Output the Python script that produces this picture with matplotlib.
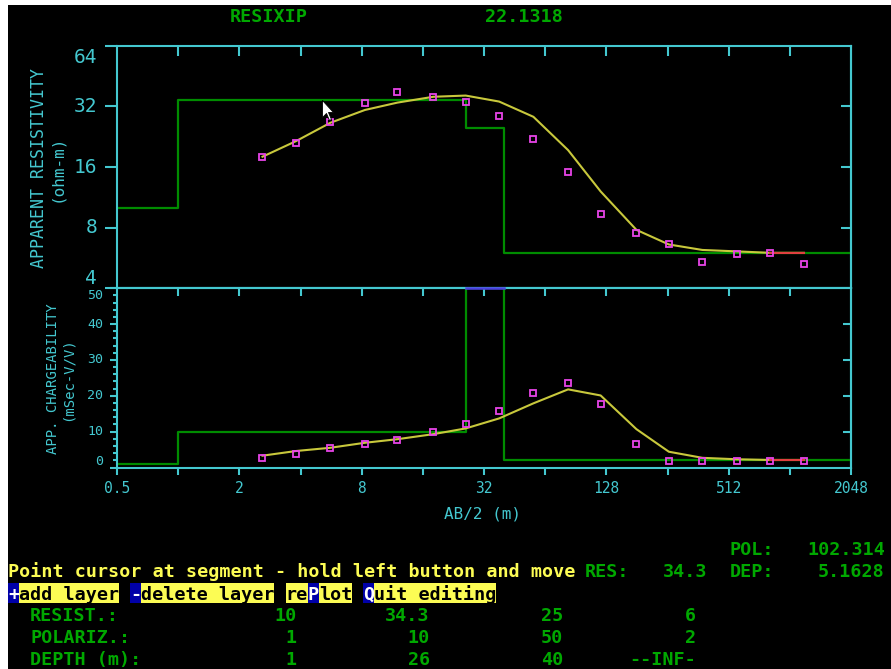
import numpy as np
import matplotlib.pyplot as plt
from matplotlib.path import Path
from matplotlib.patches import Rectangle
from matplotlib.ticker import FixedLocator, NullLocator, NullFormatter

W, H, DPI = 891, 669, 100

# 16-colour screen palette
CYAN = "#44c8d0"
GREEN = "#00a800"
STEP_GREEN = "#008c00"
YELLOW = "#fcfc54"
CURVE = "#c8c83c"
MAGENTA = "#e844e8"
RED = "#e04040"
BLUE_LINE = "#4c40e0"
BLUE_BG = "#0000a8"

# sounding: AB/2 spacing, measured and computed values
ab2 = [2.6, 3.8, 5.6, 8.3, 12, 18, 26, 38, 56, 83, 120, 180, 260, 380, 560, 820, 1200]
rho_obs = [18.0, 21.1, 26.8, 33.4, 37.8, 35.6, 33.8, 28.6, 22.1, 15.1, 9.4, 7.5, 6.6, 5.4, 5.9, 6.0, 5.3]
rho_fit = [18.0, 21.5, 26.5, 30.7, 33.4, 35.7, 36.2, 33.8, 28.4, 19.4, 12.1, 7.8, 6.6, 6.2, 6.1, 6.0, 6.0]
ip_obs = [2.7, 3.9, 5.4, 6.6, 7.8, 9.8, 12.0, 15.9, 20.9, 23.7, 17.8, 6.6, 1.9, 1.9, 1.9, 1.9, 1.9]
ip_fit = [3.3, 4.6, 5.5, 6.9, 7.9, 9.3, 10.9, 13.7, 17.9, 21.8, 20.1, 10.7, 4.4, 2.7, 2.3, 2.1, 2.1]

# layered model
layer_res = [10, 34.3, 25, 6]
layer_pol = [1, 10, 50, 2]
layer_depth = [1, 26, 40]
res_text = ["10", "34.3", "25", "6"]
pol_text = ["1", "10", "50", "2"]
depth_text = ["1", "26", "40", "--INF-"]

x_min, x_max = 0.5, 2048
octaves = [0.5 * 2 ** k for k in range(13)]
x_labels = ["0.5", "", "2", "", "8", "", "32", "", "128", "", "512", "", "2048"]
rho_ticks = [4, 8, 16, 32, 64]
ip_ticks = [0, 10, 20, 30, 40, 50]

cursor_x = 5.1
status = {"title": "RESIXIP", "value": "22.1318", "res": "34.3", "pol": "102.314", "dep": "5.1628"}

plt.rcParams["font.family"] = "DejaVu Sans Mono"
PX = 72 / DPI          # points per pixel
CHAR = 11.1            # text-mode cell width in pixels
MONO = CHAR / 0.602 * PX


def fx(px):
    return px / W


def fy(py):
    return 1 - py / H


def col(c):
    return 8 + CHAR * c


fig = plt.figure(figsize=(W / DPI, H / DPI), dpi=DPI, facecolor="white")
fig.add_artist(Rectangle((fx(8), 0), (W - 8) / W, (H - 5) / H, transform=fig.transFigure,
                         facecolor="black", edgecolor="none", zorder=-10))

L, R = 117, 851
T1, MID, B2 = 45.7, 288.3, 467.5
ax1 = fig.add_axes([fx(L), fy(MID), (R - L) / W, (MID - T1) / H])
ax2 = fig.add_axes([fx(L), fy(B2), (R - L) / W, (B2 - MID) / H])

for ax in (ax1, ax2):
    ax.set_facecolor("black")
    ax.set_xscale("log", base=2)
    ax.set_xlim(x_min, x_max)
    for s in ax.spines.values():
        s.set_color(CYAN)
        s.set_linewidth(1.5)
    ax.xaxis.set_minor_locator(NullLocator())
    ax.yaxis.set_minor_locator(NullLocator())

# ---- resistivity panel
ax1.set_yscale("log", base=2)
ax1.set_ylim(4, 64)
ax1.yaxis.set_major_locator(FixedLocator(rho_ticks))
ax1.yaxis.set_major_formatter(NullFormatter())
ax1.yaxis.set_minor_locator(NullLocator())
ax1.tick_params(axis="y", direction="out", length=12 * PX, width=1.5, color=CYAN,
                left=True, right=False, labelleft=False)
ax1.xaxis.set_major_locator(FixedLocator(octaves[1:-1]))
ax1.xaxis.set_major_formatter(NullFormatter())
ax1.tick_params(axis="x", direction="in", length=10 * PX, width=1.5, color=CYAN,
                top=True, bottom=False, labelbottom=False)

r1 = ax1.secondary_yaxis("right")
r1.set_yticks(rho_ticks[1:-1])
r1.yaxis.set_major_formatter(NullFormatter())
r1.yaxis.set_minor_locator(NullLocator())
r1.tick_params(direction="in", length=10 * PX, width=1.5, color=CYAN)
r1.spines["right"].set_color(CYAN)
r1.spines["right"].set_linewidth(1.5)

step_x = [x_min] + layer_depth + [x_max]
ax1.step(step_x, layer_res + [layer_res[-1]], where="post", color=STEP_GREEN, lw=1.6, zorder=2)
ax1.plot(ab2, rho_fit, color=CURVE, lw=1.5, zorder=3)
ax1.plot(ab2[-2:], rho_fit[-2:], color=RED, lw=1.5, zorder=3)
ax1.plot(ab2, rho_obs, ls="none", marker="s", ms=5, mfc="none", mec=MAGENTA, mew=1.3, zorder=4)

for v in rho_ticks:
    dy = {64: 12, 4: -10}.get(v, 0)
    ax1.annotate(str(v), xy=(0, v), xycoords=("axes fraction", "data"),
                 xytext=(-20 * PX, -dy * PX), textcoords="offset points",
                 ha="right", va="center", color=CYAN, fontsize=14, annotation_clip=False)

# mouse pointer resting on the second layer
arrow = Path([(0, 0), (0, -17), (4, -13), (7, -20), (9, -19), (6, -12), (11, -12), (0, 0)])
ax1.plot([cursor_x], [layer_res[1]], marker=arrow, ms=2 * 20 * PX, mfc="white", mec="black",
         mew=0.6, zorder=10, clip_on=False)

# ---- chargeability panel
ax2.set_ylim(0, 50)
ax2.yaxis.set_major_locator(FixedLocator(ip_ticks))
ax2.yaxis.set_minor_locator(FixedLocator(np.arange(0, 51, 2)))
ax2.yaxis.set_major_formatter(NullFormatter())
ax2.tick_params(axis="y", which="major", direction="out", length=7 * PX, width=1.5, color=CYAN,
                left=True, right=False, labelleft=False)
ax2.tick_params(axis="y", which="minor", direction="out", length=4 * PX, width=1.5, color=CYAN,
                left=True, right=False)
ax2.set_xticks(octaves, labels=x_labels)
ax2.xaxis.set_minor_locator(NullLocator())
ax2.tick_params(axis="x", direction="out", length=7 * PX, width=1.5, color=CYAN,
                labelcolor=CYAN, labelsize=10.5, pad=5, top=False)

t2 = ax2.secondary_xaxis("top")
t2.set_xticks(octaves[1:-1])
t2.xaxis.set_major_formatter(NullFormatter())
t2.xaxis.set_minor_locator(NullLocator())
t2.tick_params(direction="in", length=8 * PX, width=1.5, color=CYAN)
t2.spines["top"].set_color(CYAN)
t2.spines["top"].set_linewidth(1.5)

r2 = ax2.secondary_yaxis("right")
r2.set_yticks(ip_ticks[1:-1])
r2.yaxis.set_major_formatter(NullFormatter())
r2.yaxis.set_minor_locator(NullLocator())
r2.tick_params(direction="in", length=8 * PX, width=1.5, color=CYAN)
r2.spines["right"].set_color(CYAN)
r2.spines["right"].set_linewidth(1.5)

ax2.step(step_x, layer_pol + [layer_pol[-1]], where="post", color=STEP_GREEN, lw=1.6, zorder=2)
ax2.plot(layer_depth[1:3], [layer_pol[2]] * 2, color=BLUE_LINE, lw=1.8, zorder=6, clip_on=False)
ax2.plot(ab2, ip_fit, color=CURVE, lw=1.5, zorder=3)
ax2.plot(ab2[-2:], ip_fit[-2:], color=RED, lw=1.5, zorder=3)
ax2.plot(ab2, ip_obs, ls="none", marker="s", ms=5, mfc="none", mec=MAGENTA, mew=1.3, zorder=4)

for v in ip_ticks:
    dy = {50: 7, 0: -6}.get(v, 0)
    ax2.annotate(str(v), xy=(0, v), xycoords=("axes fraction", "data"),
                 xytext=(-14 * PX, -dy * PX), textcoords="offset points",
                 ha="right", va="center", color=CYAN, fontsize=9.5, annotation_clip=False)

# axis titles
fig.text(fx(482), fy(514), "AB/2 (m)", color=CYAN, fontsize=11.5, ha="center", va="center")
fig.text(fx(39), fy(168), "APPARENT RESISTIVITY", color=CYAN, fontsize=12, rotation=90,
         ha="center", va="center")
fig.text(fx(57), fy(168), "(ohm-m)", color=CYAN, fontsize=11.5, rotation=90, ha="center", va="center")
fig.text(fx(53), fy(379), "APP. CHARGEABILITY", color=CYAN, fontsize=10, rotation=90,
         ha="center", va="center")
fig.text(fx(68), fy(379), "(mSec-V/V)", color=CYAN, fontsize=10, rotation=90, ha="center", va="center")


# ---- text-mode lines
def screen(c, row_y, s, color=GREEN, ha="left"):
    fig.text(fx(col(c)), fy(row_y + 7), s, color=color, fontsize=MONO, fontweight="bold",
             ha=ha, va="baseline", zorder=5)


screen(20, 15, status["title"])
screen(43, 15, status["value"])
screen(65, 548, "POL:")
screen(79, 548, status["pol"], ha="right")
screen(0, 570, "Point cursor at segment - hold left button and move", color=YELLOW)
screen(52, 570, "RES:")
screen(63, 570, status["res"], ha="right")
screen(65, 570, "DEP:")
screen(79, 570, status["dep"], ha="right")

menu = [(0, "+", BLUE_BG, "white"), (1, "add layer", YELLOW, "black"),
        (11, "-", BLUE_BG, "white"), (12, "delete layer", YELLOW, "black"),
        (25, "re", YELLOW, "black"), (27, "P", BLUE_BG, "white"), (28, "lot", YELLOW, "black"),
        (32, "Q", BLUE_BG, "white"), (33, "uit editing", YELLOW, "black")]
for c, s, bg, fg in menu:
    fig.add_artist(Rectangle((fx(col(c)), fy(602.7)), CHAR * len(s) / W, 20 / H,
                             transform=fig.transFigure, facecolor=bg, edgecolor="none", zorder=1))
    screen(c, 593, s, color=fg)

rows = [("RESIST.:", res_text, 614), ("POLARIZ.:", pol_text, 636), ("DEPTH (m):", depth_text, 658)]
for label, vals, y in rows:
    screen(2, y, label)
    for c, v in zip([26, 38, 50, 62], vals):
        screen(c, y, v, ha="right")

fig.savefig("out.png", dpi=DPI, facecolor=fig.get_facecolor())
